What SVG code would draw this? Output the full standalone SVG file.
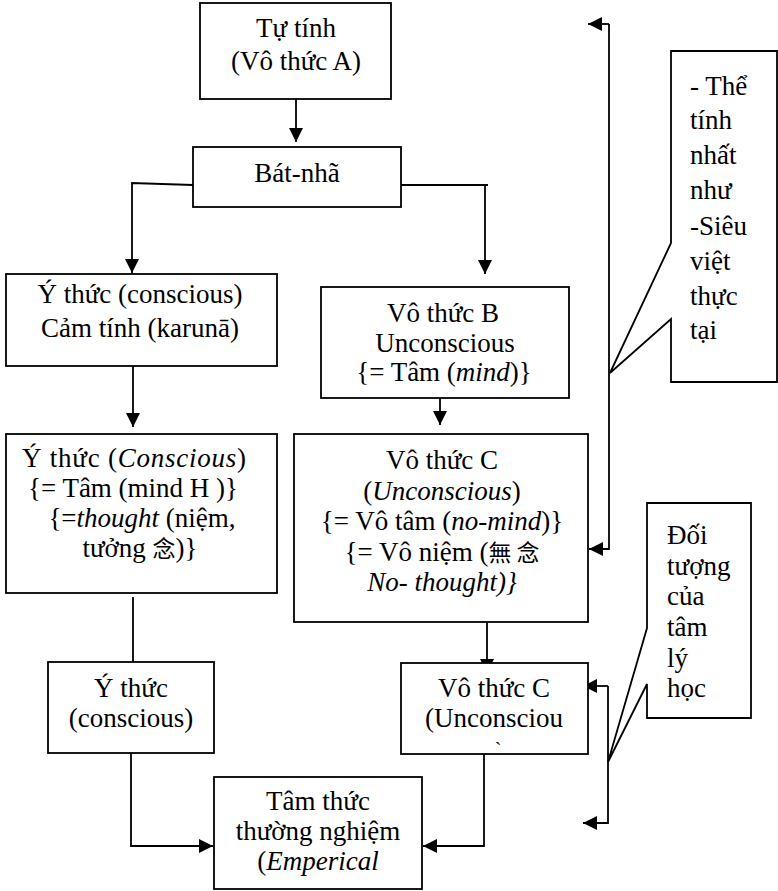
<svg xmlns="http://www.w3.org/2000/svg" width="778" height="891" viewBox="0 0 778 891" font-family="Liberation Serif, DejaVu Serif, serif" font-size="27">
<defs>
<style>
.box{fill:#fff;stroke:#000;stroke-width:1.8}
.ln{fill:none;stroke:#000;stroke-width:1.8}
.c{text-anchor:middle}
.i{font-style:italic}
</style>
<marker id="ah" viewBox="0 0 10 10" markerWidth="15" markerHeight="14" markerUnits="userSpaceOnUse" refX="10" refY="5" orient="auto">
<path d="M0,0 L10,5 L0,10 z" fill="#000"/>
</marker>
</defs>
<rect width="778" height="891" fill="#fff"/>

<g id="connectors">
<path class="ln" d="M296,99 V142" marker-end="url(#ah)"/>
<path class="ln" d="M193,185 L132,183 V273" marker-end="url(#ah)"/>
<path class="ln" d="M401,185 H488"/>
<path class="ln" d="M485,185 V274" marker-end="url(#ah)"/>
<path class="ln" d="M133,366 V427" marker-end="url(#ah)"/>
<path class="ln" d="M440,398 V425" marker-end="url(#ah)"/>
<path class="ln" d="M133,597 V662"/>
<path class="ln" d="M131,753 V846 H213" marker-end="url(#ah)"/>
<path class="ln" d="M487,603 V673" marker-end="url(#ah)"/>
<path class="ln" d="M484,754 V846 H423" marker-end="url(#ah)"/>
<path class="ln" d="M609,24 V549 H589" marker-end="url(#ah)"/>
<path class="ln" d="M609,24 H588" marker-end="url(#ah)"/>
<path class="ln" d="M608,686 V823 H583" marker-end="url(#ah)"/>
<path class="ln" d="M608,686 H583" marker-end="url(#ah)"/>
</g>

<g id="tu-tinh">
<rect class="box" x="200" y="3" width="191" height="96"/>
<text class="c" x="296" y="37">Tự tính</text>
<text class="c" x="296" y="70">(Vô thức A)</text>
</g>

<g id="bat-nha">
<rect class="box" x="193" y="147" width="208" height="60"/>
<text class="c" x="297" y="182">Bát-nhã</text>
</g>

<g id="y-thuc-cam-tinh">
<rect class="box" x="6" y="274" width="271" height="92"/>
<text class="c" x="140" y="303">Ý thức (conscious)</text>
<text class="c" x="140" y="337">Cảm tính (karunā)</text>
</g>

<g id="vo-thuc-b">
<rect class="box" x="321" y="287" width="248" height="111"/>
<text class="c" x="443" y="322">Vô thức B</text>
<text class="c" x="445" y="352">Unconscious</text>
<text class="c" x="444" y="381">{= Tâm (<tspan class="i">mind</tspan>)}</text>
</g>

<g id="y-thuc-conscious-tam">
<rect class="box" x="6" y="434" width="271" height="159"/>
<text class="c" x="134" y="467" textLength="224" lengthAdjust="spacing">Ý thức (<tspan class="i">Conscious</tspan>)</text>
<text class="c" x="133" y="497">{= Tâm (mind H )}</text>
<text class="c" x="142" y="527">{=<tspan class="i">thought</tspan> (niệm,</text>
<text class="c" x="140" y="557">tưởng <tspan font-family="Noto Sans CJK SC, Noto Sans CJK TC, sans-serif" font-size="23">念</tspan>)}</text>
</g>

<g id="vo-thuc-c">
<rect class="box" x="294" y="434" width="294" height="188"/>
<text class="c" x="442" y="469">Vô thức C</text>
<text class="c" x="442" y="500">(<tspan class="i">Unconscious</tspan>)</text>
<text class="c" x="442" y="530">{= Vô tâm (<tspan class="i">no-mind</tspan>)}</text>
<text class="c" x="442" y="561">{= Vô niệm (<tspan font-family="Noto Sans CJK TC, Noto Sans CJK SC, sans-serif" font-size="23">無 念</tspan></text>
<text class="c i" x="442" y="591">No- thought)}</text>
</g>

<g id="y-thuc-conscious">
<rect class="box" x="48" y="662" width="166" height="91"/>
<text class="c" x="131" y="697">Ý thức</text>
<text class="c" x="131" y="727">(conscious)</text>
</g>

<g id="vo-thuc-c-small">
<rect class="box" x="401" y="663" width="187" height="91"/>
<text class="c" x="494" y="697">Vô thức C</text>
<text class="c" x="494" y="727">(Unconsciou</text>
<text class="c" x="498" y="757" font-size="20">`</text>
</g>

<g id="tam-thuc">
<rect class="box" x="214" y="777" width="208" height="112"/>
<text class="c" x="318" y="810">Tâm thức</text>
<text class="c" x="318" y="840">thường nghiệm</text>
<text class="c" x="318" y="870">(<tspan class="i">Emperical</tspan></text>
</g>

<g id="callout-the-tinh">
<path class="box" d="M671,51 H777 V382 H671 V319 L610,373 L671,243 Z"/>
<text x="690" y="95">- Thể</text>
<text x="690" y="129">tính</text>
<text x="690" y="164">nhất</text>
<text x="690" y="199">như</text>
<text x="690" y="235">-Siêu</text>
<text x="690" y="270">việt</text>
<text x="690" y="305">thực</text>
<text x="690" y="339">tại</text>
</g>

<g id="callout-doi-tuong">
<path class="box" d="M647,503 H751 V718 H647 V684 L608,762 L647,628 Z"/>
<text x="667" y="544">Đối</text>
<text x="667" y="575">tượng</text>
<text x="667" y="605">của</text>
<text x="667" y="636">tâm</text>
<text x="667" y="667">lý</text>
<text x="667" y="697">học</text>
</g>
</svg>
